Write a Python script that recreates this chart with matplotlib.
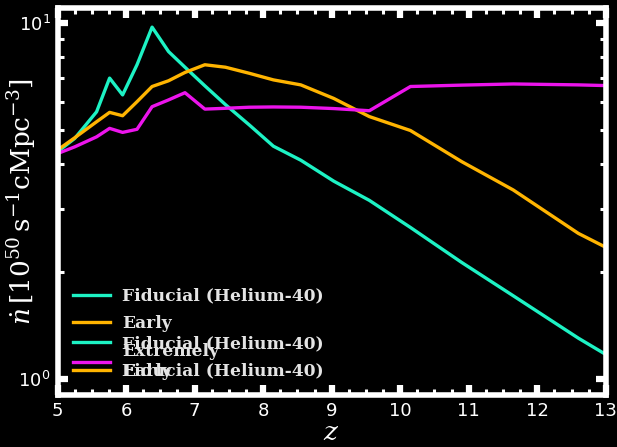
import numpy as np
import matplotlib
matplotlib.use("Agg")
import matplotlib.pyplot as plt
from matplotlib.ticker import MultipleLocator, NullFormatter, LogLocator

plt.rcParams['mathtext.fontset'] = 'dejavuserif'

# --- emission rate vs redshift for the three reionization histories ---
z = [5.0, 5.25, 5.57, 5.76, 5.95, 6.16, 6.38, 6.62, 6.86, 7.15, 7.45,
     7.8, 8.15, 8.55, 9.03, 9.55, 10.15, 10.9, 11.65, 12.6, 13.0]
fiducial = [4.34, 4.73, 5.62, 6.99, 6.27, 7.62, 9.72, 8.30, 7.50, 6.65, 5.89,
            5.16, 4.50, 4.11, 3.59, 3.17, 2.66, 2.12, 1.71, 1.30, 1.17]
early = [4.39, 4.75, 5.27, 5.60, 5.48, 6.00, 6.62, 6.87, 7.25, 7.62, 7.50,
         7.21, 6.91, 6.69, 6.13, 5.45, 4.98, 4.07, 3.39, 2.56, 2.34]
extremely_early = [4.29, 4.48, 4.78, 5.05, 4.92, 5.02, 5.81, 6.07, 6.36, 5.72, 5.75,
                   5.79, 5.80, 5.79, 5.74, 5.66, 6.62, 6.68, 6.73, 6.69, 6.66]

c_fid = '#1DF2C4'
c_early = '#FFB400'
c_xearly = '#EC14EC'
fg = 'white'

fig = plt.figure(figsize=(6.17, 4.47), dpi=100, facecolor='black')
ax = fig.add_axes([0.0932, 0.1163, 0.9818 - 0.0932, 0.9821 - 0.1163])
ax.set_facecolor('black')

lw = 2.4
l_fid, = ax.plot(z, fiducial, color=c_fid, lw=lw)
l_early, = ax.plot(z, early, color=c_early, lw=lw)
l_xearly, = ax.plot(z, extremely_early, color=c_xearly, lw=lw)

ax.set_yscale('log')
ax.set_xlim(5, 13)
ax.set_ylim(0.9, 11)

ax.xaxis.set_major_locator(MultipleLocator(1))
ax.xaxis.set_minor_locator(MultipleLocator(0.25))
ax.yaxis.set_minor_locator(LogLocator(base=10, subs=np.arange(2, 10)))
ax.yaxis.set_minor_formatter(NullFormatter())

for s in ax.spines.values():
    s.set_color(fg)
    s.set_linewidth(4)

ax.tick_params(which='both', direction='in', top=True, right=True,
               colors=fg, labelsize=13, pad=5)
ax.tick_params(which='major', length=7.5, width=4.5)
ax.tick_params(which='minor', length=4.5, width=2.2)

ax.set_xlabel(r'$z$', color=fg, fontsize=19, labelpad=0)
ax.set_ylabel(r'$\dot{n}\,[10^{50}\,\mathrm{s^{-1}cMpc^{-3}}]$', color=fg,
              fontsize=19)
ax.yaxis.set_label_coords(-0.036, 0.5)

# two legends stacked in the same corner
legend_font = {'family': 'DejaVu Serif', 'weight': 'bold', 'size': 12.3}
leg_kw = dict(loc='lower left', frameon=False, prop=legend_font,
              labelcolor='#E4E4E4', handlelength=2.2, handletextpad=0.7,
              labelspacing=0.62)
leg1 = ax.legend([l_fid, l_early, l_xearly],
                 ['Fiducial (Helium-40)', 'Early', 'Extremely\nEarly'], **leg_kw)
ax.add_artist(leg1)
ax.legend([l_fid, l_early],
          ['Fiducial (Helium-40)', 'Fiducial (Helium-40)'], **leg_kw)

fig.savefig('out.png', dpi=100, facecolor='black')
